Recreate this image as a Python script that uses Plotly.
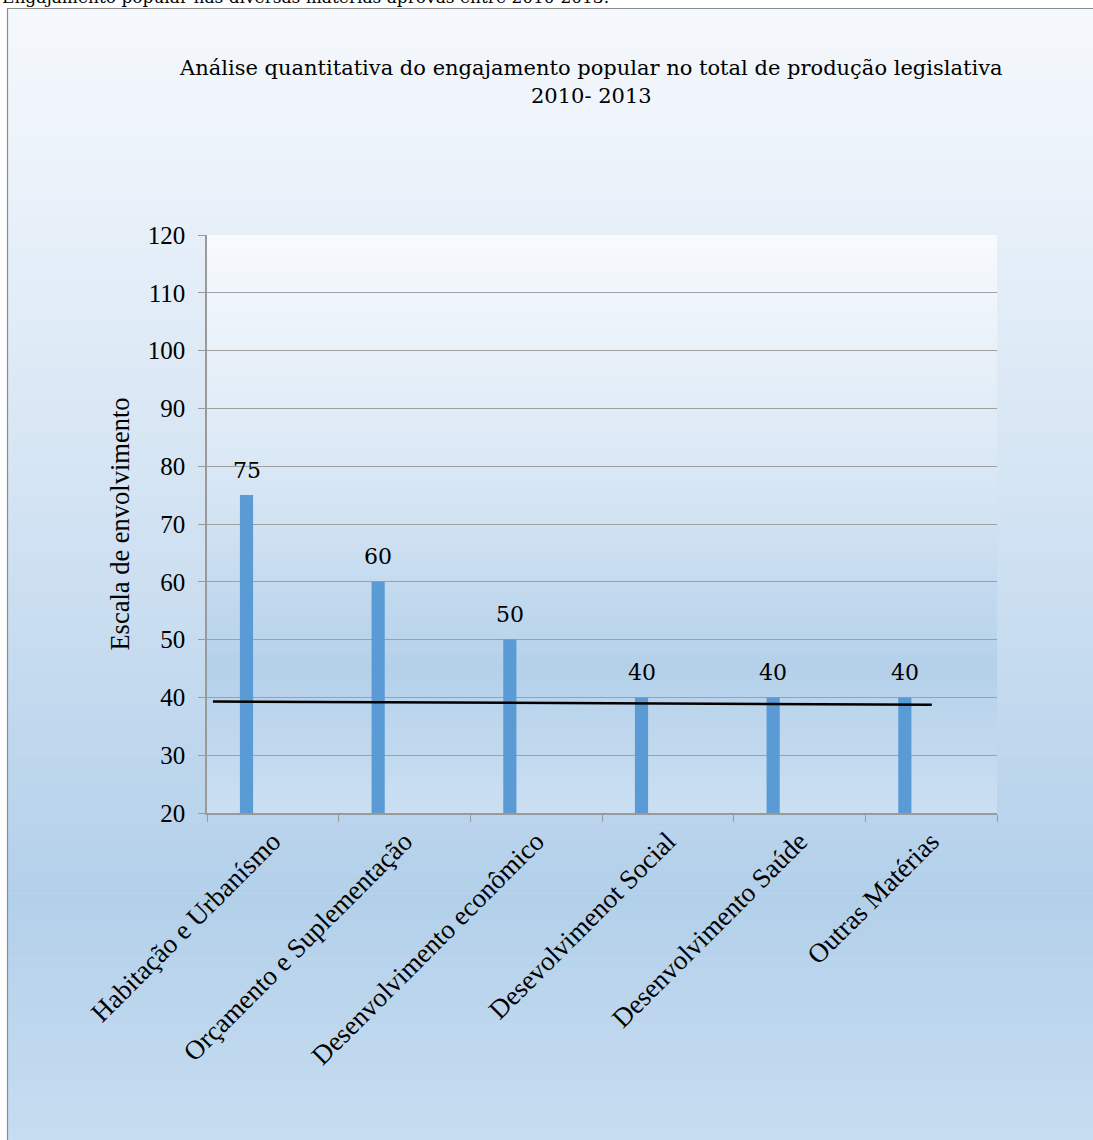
import plotly.graph_objects as go

# ---------------- data ----------------
categories = [
    "Habitação e Urbanísmo",
    "Orçamento e Suplementação",
    "Desenvolvimento econômico",
    "Desevolvimenot Social",
    "Desenvolvimento Saúde",
    "Outras Matérias",
]
values = [75, 60, 50, 40, 40, 40]
trend_x = [-0.455, 5.005]      # positions in category units
trend_y = [39.3, 38.75]
y_ticks = [20, 30, 40, 50, 60, 70, 80, 90, 100, 110, 120]

title_line1 = "Análise quantitativa do engajamento popular no total de produção legislativa"
title_line2 = "2010- 2013"
doc_text = "Engajamento popular nas diversas matérias aprovas entre 2010-2013."
y_title = "Escala de envolvimento"

# ---------------- layout constants ----------------
W, H = 1093, 1140
L, R, T, B = 207, 96, 235, 327
PW, PH = W - L - R, H - T - B
FONT = "Liberation Serif"
ANN_FONT = "DejaVu Serif"
BAR_OFFSET, BAR_WIDTH = -0.25, 0.1


def px_x(px):
    return (px - L) / PW


def px_y(py):
    return (H - B - py) / PH


def hex2rgb(h):
    h = h.lstrip("#")
    return tuple(int(h[i:i + 2], 16) for i in (0, 2, 4))


def interp(stops, f):
    for (f0, c0), (f1, c1) in zip(stops[:-1], stops[1:]):
        if f0 <= f <= f1:
            t = 0 if f1 == f0 else (f - f0) / (f1 - f0)
            a, b = hex2rgb(c0), hex2rgb(c1)
            return "rgb(%d,%d,%d)" % tuple(round(a[i] + (b[i] - a[i]) * t) for i in range(3))
    return stops[-1][1]


shapes = []

# outer chart-area gradient (pixel y stops)
paper_stops = [(8, "#F5F8FC"), (150, "#ECF3FA"), (450, "#D7E6F4"),
               (700, "#C2D9EE"), (900, "#B3D0EA"), (1145, "#C7DDF1")]
top_px, bot_px = 8, 1145
n = 140
for i in range(n):
    y0 = top_px + (bot_px - top_px) * i / n
    y1 = top_px + (bot_px - top_px) * (i + 1) / n
    col = interp(paper_stops, (y0 + y1) / 2)
    shapes.append(dict(type="rect", xref="paper", yref="paper", layer="below",
                       x0=px_x(7), x1=px_x(W + 5), y0=px_y(y1 + 0.6), y1=px_y(y0),
                       fillcolor=col, line=dict(width=0)))

# plot-area gradient (fraction from top)
plot_stops = [(0.0, "#F7FAFD"), (0.45, "#D6E5F4"), (0.75, "#B4D1EA"), (1.0, "#CBDFF2")]
m = 80
for i in range(m):
    f0, f1 = i / m, (i + 1) / m
    col = interp(plot_stops, (f0 + f1) / 2)
    shapes.append(dict(type="rect", xref="x domain", yref="y domain", layer="below",
                       x0=0, x1=1, y0=max(0, 1 - f1 - 0.002), y1=1 - f0,
                       fillcolor=col, line=dict(width=0)))

# outer frame
shapes.append(dict(type="rect", xref="paper", yref="paper", layer="below",
                   x0=px_x(7.5), x1=px_x(W + 5), y0=px_y(H + 5), y1=px_y(8.5),
                   fillcolor="rgba(0,0,0,0)", line=dict(color="#8C8C8C", width=1.2)))

fig = go.Figure()
fig.add_trace(go.Bar(
    x=categories, y=values, marker=dict(color="#5B9BD5", line=dict(width=0)),
    offset=BAR_OFFSET, width=BAR_WIDTH, showlegend=False,
))
fig.add_trace(go.Scatter(
    x=trend_x, y=trend_y, xaxis="x2", yaxis="y", mode="lines",
    line=dict(color="black", width=2.5), showlegend=False, hoverinfo="skip",
))

# data labels built from the data arrays
annotations = []
for i, v in enumerate(values):
    annotations.append(dict(
        text=str(v), xref="x2", yref="y", x=i + BAR_OFFSET + BAR_WIDTH / 2, y=v,
        xanchor="center", yanchor="middle", yshift=25, showarrow=False,
        font=dict(family=ANN_FONT, size=22, color="black")))

annotations += [
    dict(text=title_line1, xref="paper", yref="paper", x=px_x(591), y=px_y(68),
         xanchor="center", yanchor="middle", showarrow=False,
         font=dict(family=ANN_FONT, size=21, color="black")),
    dict(text=title_line2, xref="paper", yref="paper", x=px_x(591), y=px_y(96),
         xanchor="center", yanchor="middle", showarrow=False,
         font=dict(family=ANN_FONT, size=21, color="black")),
    dict(text=doc_text, xref="paper", yref="paper", x=px_x(0), y=px_y(9),
         xanchor="left", yanchor="bottom", showarrow=False, align="left",
         font=dict(family=ANN_FONT, size=17, color="black")),
]

fig.update_layout(
    width=W, height=H,
    margin=dict(l=L, r=R, t=T, b=B),
    paper_bgcolor="white", plot_bgcolor="rgba(0,0,0,0)",
    font=dict(family=FONT, size=25, color="black"),
    shapes=shapes,
    annotations=annotations,
    xaxis=dict(
        type="category", range=[-0.5, 5.5], tickangle=-45, tickson="boundaries",
        ticks="outside", ticklen=7, tickcolor="#9A9A9A", tickwidth=1.3,
        showline=True, linecolor="#9A9A9A", linewidth=1.5, showgrid=False,
        tickfont=dict(family=FONT, size=27, color="black"),
    ),
    xaxis2=dict(overlaying="x", range=[-0.5, 5.5], visible=False),
    yaxis=dict(
        range=[20, 120], tickmode="array", tickvals=y_ticks,
        ticks="outside", ticklen=7, tickcolor="#9A9A9A", tickwidth=1.3,
        showline=True, linecolor="#9A9A9A", linewidth=1.5,
        showgrid=True, gridcolor="#A0A0A0", gridwidth=1.3, zeroline=False,
        tickfont=dict(family=FONT, size=25, color="black"), ticklabelstandoff=8,
        title=dict(text=y_title, font=dict(family=FONT, size=26.5, color="black"), standoff=10),
    ),
)

fig.write_html("out.html")
